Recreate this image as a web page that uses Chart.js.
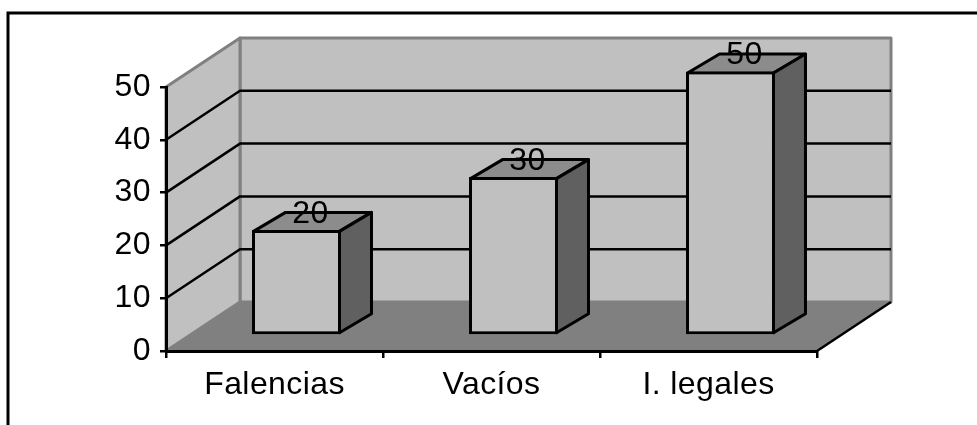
<!DOCTYPE html>
<html>
<head>
<meta charset="utf-8">
<title>Falencias, vacíos, I. legales</title>
<script src="https://cdn.jsdelivr.net/npm/chart.js@4/dist/chart.umd.min.js"></script>
<style>
  html, body { margin: 0; padding: 0; background: #fff; }
  canvas { display: block; }
</style>
</head>
<body>
<canvas id="chart" width="977" height="425"></canvas>
<script>
const categories = ["Falencias", "Vacíos", "I. legales"];
const values = [20, 30, 50];
const yTicks = [0, 10, 20, 30, 40, 50];

// -------------------------------
// 3D BOX LOOK (pixel offsets)
// -------------------------------
const DEPTH_X = 74;       // front plane to back wall
const DEPTH_Y = -49;
const BAR_SHIFT_X = 22;   // bars stand a bit behind the front plane
const BAR_SHIFT_Y = -15.5;
const BAR_SIDE_X = 32;    // depth of a bar
const BAR_SIDE_Y = -19;
const BAR_BORDER = 3;
const FONT = "'Liberation Sans', Arial, sans-serif";
const FONT_SIZE = 32;

function poly(ctx, pts, fill, stroke, lw) {
  ctx.beginPath();
  pts.forEach((p, i) => (i ? ctx.lineTo(p[0], p[1]) : ctx.moveTo(p[0], p[1])));
  ctx.closePath();
  if (fill) { ctx.fillStyle = fill; ctx.fill(); }
  if (stroke) { ctx.strokeStyle = stroke; ctx.lineWidth = lw; ctx.lineJoin = "round"; ctx.stroke(); }
}

const box3d = {
  id: "box3d",

  beforeDraw(chart) {
    const { ctx, chartArea: a, scales } = chart;
    const y = scales.y;

    ctx.save();
    ctx.fillStyle = "#fff";
    ctx.fillRect(0, 0, chart.width, chart.height);

    // outer frame, only top and left are in view
    ctx.strokeStyle = "#000";
    ctx.lineWidth = 3;
    ctx.beginPath();
    ctx.moveTo(8, 425);
    ctx.lineTo(8, 13);
    ctx.lineTo(977, 13);
    ctx.stroke();

    // walls and floor
    const bx = a.left + DEPTH_X, by = a.bottom + DEPTH_Y, tw = a.top + DEPTH_Y;
    poly(ctx, [[bx, tw], [a.right + DEPTH_X, tw], [a.right + DEPTH_X, by], [bx, by]], "#c0c0c0", "#808080", 3);
    poly(ctx, [[a.left, a.top], [bx, tw], [bx, by], [a.left, a.bottom]], "#c0c0c0", "#808080", 3);
    poly(ctx, [[a.left, a.bottom], [bx, by], [a.right + DEPTH_X, by], [a.right, a.bottom]], "#808080");

    // gridlines run up the side wall and across the back
    ctx.strokeStyle = "#000";
    ctx.lineWidth = 2.5;
    yTicks.slice(1, -1).forEach(t => {
      const py = y.getPixelForValue(t);
      ctx.beginPath();
      ctx.moveTo(a.left, py);
      ctx.lineTo(bx, py + DEPTH_Y);
      ctx.lineTo(a.right + DEPTH_X, py + DEPTH_Y);
      ctx.stroke();
    });

    // floor edge on the right
    ctx.beginPath();
    ctx.moveTo(a.right, a.bottom);
    ctx.lineTo(a.right + DEPTH_X, by);
    ctx.stroke();
    ctx.restore();

    // widens the axis text a little
    ctx.letterSpacing = "0.4px";
  },

  beforeDatasetsDraw(chart) {
    const { ctx } = chart;
    const inset = BAR_BORDER / 2;   // Chart.js draws bar borders inside the box
    ctx.save();
    ctx.translate(BAR_SHIFT_X, BAR_SHIFT_Y);
    chart.getDatasetMeta(0).data.forEach(bar => {
      const l = bar.x - bar.width / 2 + inset, r = bar.x + bar.width / 2 - inset;
      const t = bar.y + inset, b = bar.base - inset;
      poly(ctx, [[l, t], [l + BAR_SIDE_X, t + BAR_SIDE_Y], [r + BAR_SIDE_X, t + BAR_SIDE_Y], [r, t]], "#8c8c8c", "#000", BAR_BORDER);
      poly(ctx, [[r, t], [r + BAR_SIDE_X, t + BAR_SIDE_Y], [r + BAR_SIDE_X, b + BAR_SIDE_Y], [r, b]], "#606060", "#000", BAR_BORDER);
    });
  },

  afterDatasetsDraw(chart) {
    const { ctx } = chart;
    ctx.restore();

    // value labels sit on the top face of each bar
    ctx.save();
    ctx.font = FONT_SIZE + "px " + FONT;
    ctx.fillStyle = "#000";
    ctx.textAlign = "center";
    ctx.textBaseline = "middle";
    chart.getDatasetMeta(0).data.forEach((bar, i) => {
      ctx.fillText(String(values[i]), bar.x + BAR_SHIFT_X + 14, bar.y + BAR_SHIFT_Y - 16);
    });
    ctx.restore();
  }
};

new Chart(document.getElementById("chart").getContext("2d"), {
  type: "bar",
  data: {
    labels: categories,
    datasets: [
      {
        data: values,
        backgroundColor: "#c0c0c0",
        borderColor: "#000",
        borderWidth: BAR_BORDER,
        borderSkipped: false,
        barPercentage: 0.41,
        categoryPercentage: 1
      }
    ]
  },
  options: {
    responsive: false,
    animation: false,
    layout: { padding: { left: 0, top: 87, right: 160, bottom: 0 } },
    plugins: {
      legend: { display: false },
      tooltip: { enabled: false }
    },
    scales: {
      x: {
        afterFit: s => { s.height = 74; },
        grid: { drawOnChartArea: false, color: "#000", lineWidth: 2.5, tickLength: 7 },
        border: { color: "#000", width: 3 },
        ticks: { color: "#000", font: { family: FONT, size: FONT_SIZE }, padding: 8, maxRotation: 0 }
      },
      y: {
        min: 0,
        max: 50,
        afterFit: s => { s.width = 166; },
        afterBuildTicks: s => { s.ticks = yTicks.map(v => ({ value: v })); },
        grid: { drawOnChartArea: false, color: "#000", lineWidth: 2.5, tickLength: 6 },
        border: { color: "#000", width: 3 },
        ticks: { color: "#000", font: { family: FONT, size: FONT_SIZE }, padding: 9 }
      }
    }
  },
  plugins: [box3d]
});
</script>
</body>
</html>
